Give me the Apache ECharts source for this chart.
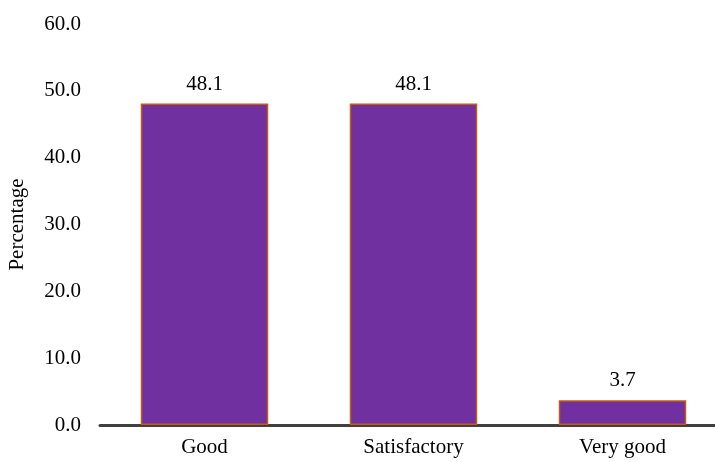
<!DOCTYPE html>
<html lang="en">
<head>
    <meta charset="utf-8">
    <title>Percentage by rating</title>
    <script src="https://cdn.jsdelivr.net/npm/echarts@6/dist/echarts.min.js"></script>
    <style>
        body { margin: 0; background: #fff; }
    </style>
</head>
<body>
<div id="main" style="width: 715px;height:462px;"></div>
<script type="text/javascript">
    var categories = ['Good', 'Satisfactory', 'Very good'];
    var values = [48.1, 48.1, 3.7];

    var font = 'Liberation Serif, Times New Roman, serif';
    var myChart = echarts.init(document.getElementById('main'));

    var option = {
        animation: false,
        grid: {
            left: 100,
            width: 627,
            top: 24,
            bottom: 37,
            containLabel: false,
            outerBoundsMode: 'none'
        },
        xAxis: {
            type: 'category',
            data: categories,
            axisLine: {
                lineStyle: { color: '#404040', width: 3 }
            },
            axisTick: { show: false },
            axisLabel: {
                color: '#000',
                fontFamily: font,
                fontSize: 21,
                margin: 12
            }
        },
        yAxis: {
            type: 'value',
            min: 0,
            max: 60,
            interval: 10,
            name: 'Percentage',
            nameLocation: 'middle',
            nameGap: 72,
            nameTextStyle: {
                color: '#000',
                fontFamily: font,
                fontSize: 21
            },
            splitLine: { show: false },
            axisLine: { show: false },
            axisTick: { show: false },
            axisLabel: {
                color: '#000',
                fontFamily: font,
                fontSize: 21,
                margin: 19,
                formatter: function (v) { return v.toFixed(1); }
            }
        },
        series: [{
            type: 'bar',
            data: values,
            barWidth: '61%',
            itemStyle: {
                color: '#7030A0',
                borderColor: '#C55A11',
                borderWidth: 1.5
            },
            label: {
                show: true,
                position: 'top',
                distance: 9,
                color: '#000',
                fontFamily: font,
                fontSize: 21,
                formatter: function (p) { return p.value.toFixed(1); }
            }
        }]
    };
    myChart.setOption(option);
</script>
</body>
</html>
